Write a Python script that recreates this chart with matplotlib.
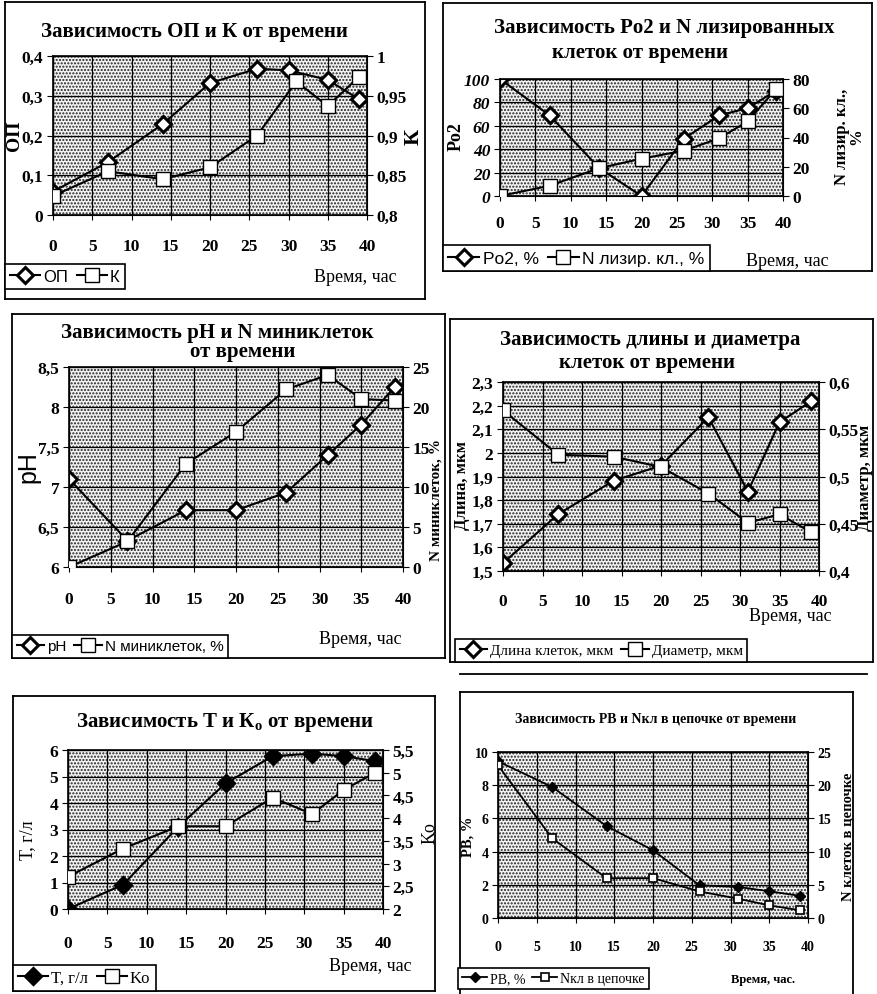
import matplotlib
matplotlib.use('Agg')
import matplotlib.pyplot as plt
from matplotlib.patches import Rectangle
from matplotlib.lines import Line2D
from matplotlib.ticker import FuncFormatter, MultipleLocator

plt.rcParams['font.family'] = ['Liberation Serif', 'DejaVu Serif']
plt.rcParams['mathtext.fontset'] = 'custom'
plt.rcParams['mathtext.rm'] = 'Liberation Serif'
plt.rcParams['mathtext.bf'] = 'Liberation Serif:bold'
plt.rcParams['hatch.linewidth'] = 1.0

W, H = 877, 995

# время, час
time = [0, 7, 14, 20, 26, 31, 35, 39]
time_op = [0, 7, 14, 20, 26, 30, 35, 39]

# panel 1
op = [0.059, 0.133, 0.229, 0.332, 0.368, 0.364, 0.340, 0.291]
k = [0.824, 0.855, 0.845, 0.860, 0.900, 0.968, 0.937, 0.974]

# panel 2
po2 = [100, 69, 24, 0, 49, 69, 75, 90]
n_lys = [0, 7, 19, 25.5, 31, 39.5, 51, 73]

# panel 3
ph = [7.10, 6.33, 6.71, 6.71, 6.93, 7.40, 7.78, 8.25]
n_mini = [0, 3.2, 12.9, 16.9, 22.2, 24, 21, 20.8]

# panel 4
length = [1.533, 1.741, 1.882, 1.946, 2.151, 1.836, 2.13, 2.218]
diam = [0.570, 0.523, 0.521, 0.510, 0.482, 0.451, 0.460, 0.441]

# panel 5
T = [0, 0.92, 3.1, 4.74, 5.77, 5.86, 5.77, 5.58]
ko = [2.71, 3.33, 3.82, 3.82, 4.45, 4.09, 4.62, 5.0]

# panel 6
pb = [9.44, 7.89, 5.54, 4.08, 1.97, 1.87, 1.61, 1.33]
n_chain = [23.0, 12.0, 6.0, 6.0, 4.0, 2.9, 1.9, 1.16]

fig = plt.figure(figsize=(W / 100, H / 100), dpi=100)


def fx(x):
    return x / W


def fy(y):
    return 1 - y / H


def comma(v, pos):
    return ('%g' % round(v, 4)).replace('.', ',')


def box(l, t, r, b, sides='lrtb'):
    if 'l' in sides:
        fig.add_artist(Line2D([fx(l), fx(l)], [fy(t), fy(b)], color='black', lw=1.3))
    if 'r' in sides:
        fig.add_artist(Line2D([fx(r), fx(r)], [fy(t), fy(b)], color='black', lw=1.3))
    if 't' in sides:
        fig.add_artist(Line2D([fx(l), fx(r)], [fy(t), fy(t)], color='black', lw=1.3))
    if 'b' in sides:
        fig.add_artist(Line2D([fx(l), fx(r)], [fy(b), fy(b)], color='black', lw=1.3))


def panel(l, t, r, b, ylim, ystep, y2lim, y2step, fs=12.5, xpad=12):
    ax = fig.add_axes([fx(l), fy(b), (r - l) / W, (b - t) / H])
    # stippled plot area like the scanned Excel chart
    ax.add_patch(Rectangle((0, 0), 1, 1, transform=ax.transAxes, facecolor='#f2f2f2',
                           edgecolor='#222222', linewidth=0, hatch='.....', zorder=0))
    ax.set_xlim(0, 40)
    ax.set_ylim(*ylim)
    ax.xaxis.set_major_locator(MultipleLocator(5))
    ax.yaxis.set_major_locator(MultipleLocator(ystep))
    ax.yaxis.set_major_formatter(FuncFormatter(comma))
    ax.grid(True, color='black', lw=0.9)
    ax.set_axisbelow(True)
    ax.tick_params(axis='x', direction='inout', length=7, pad=xpad, labelsize=fs)
    ax.tick_params(axis='y', direction='out', length=4, pad=3, labelsize=fs)
    for s in ax.spines.values():
        s.set_linewidth(1.2)
    for lab in ax.get_xticklabels() + ax.get_yticklabels():
        lab.set_fontweight('bold')
    ax2 = ax.twinx()
    ax2.set_ylim(*y2lim)
    ax2.yaxis.set_major_locator(MultipleLocator(y2step))
    ax2.yaxis.set_major_formatter(FuncFormatter(comma))
    ax2.tick_params(axis='y', direction='out', length=4, pad=3, labelsize=fs)
    for lab in ax2.get_yticklabels():
        lab.set_fontweight('bold')
    return ax, ax2


dia = dict(color='black', lw=1.5, marker='D', ms=8, mfc='white', mec='black', mew=2.2)
sq = dict(color='black', lw=1.5, marker='s', ms=10, mfc='white', mec='black', mew=1.0)


def legend(handles, labels, x0, y1, fs=12, family='Liberation Sans'):
    lg = fig.legend(handles, labels, loc='lower left', bbox_to_anchor=(fx(x0), fy(y1)),
                    ncol=2, frameon=True, fancybox=False, edgecolor='black', framealpha=1,
                    borderpad=0.3, handlelength=1.8, handletextpad=0.2, columnspacing=0.5,
                    borderaxespad=0, prop={'family': family, 'size': fs})
    lg.get_frame().set_linewidth(1.2)
    return lg


def title(x, y, s, fs=15):
    fig.text(fx(x), fy(y), s, ha='center', va='center', fontsize=fs, fontweight='bold')


def ylab(x, y, s, fs=13, rot=90, **kw):
    fig.text(fx(x), fy(y), s, ha='center', va='center', rotation=rot, fontsize=fs, **kw)


# ---- panel 1: ОП и К
box(5, 3, 425, 300)
ax, ax2 = panel(53, 57, 367, 216, (0, 0.4), 0.1, (0.8, 1.0), 0.05, xpad=13)
l1, = ax.plot(time_op, op, zorder=4, **dia)
l2, = ax2.plot(time, k, zorder=3, **sq)
title(194, 32, 'Зависимость ОП и К от времени')
ylab(14, 136, 'ОП', fs=14, fontweight='bold')
ylab(414, 137, 'К', fs=16, fontweight='bold')
legend([l1, l2], ['ОП', 'К'], 5, 290)
fig.text(fx(355), fy(277), 'Время, час', ha='center', va='center', fontsize=13)

# ---- panel 2: Po2 и N лизированных
box(443, 4, 872, 272)
ax, ax2 = panel(500, 80, 783, 197, (0, 100), 20, (0, 80), 20, xpad=10)
for lab in ax.get_yticklabels():
    lab.set_fontstyle('italic')
l1, = ax.plot(time, po2, zorder=4, **dia)
l2, = ax2.plot(time, n_lys, zorder=3, **sq)
title(664, 28, 'Зависимость Po2 и N лизированных')
title(640, 53, 'клеток от времени')
ylab(456, 137, 'Po2', fs=13, fontweight='bold')
ylab(849, 137, 'N лизир. кл.,\n%', fs=12, fontweight='bold', linespacing=0.9)
legend([l1, l2], ['Po2, %', 'N лизир. кл., %'], 443, 272, fs=12.5)
fig.text(fx(787), fy(262), 'Время, час', ha='center', va='center', fontsize=13)

# ---- panel 3: pH и N миниклеток
box(12, 315, 445, 659)
ax, ax2 = panel(69, 368, 403, 568, (6, 8.5), 0.5, (0, 25), 5, xpad=14)
l1, = ax.plot(time, ph, zorder=4, **dia)
l2, = ax2.plot(time, n_mini, zorder=3, **sq)
title(217, 333, 'Зависимость pH и N миниклеток')
title(243, 352, 'от времени')
ylab(28, 467, 'pH', fs=18, family='Liberation Sans')
ylab(436, 500, 'N миниклеток, %', fs=11, fontweight='bold')
legend([l1, l2], ['pH', 'N миниклеток, %'], 12, 659, fs=11)
fig.text(fx(360), fy(640), 'Время, час', ha='center', va='center', fontsize=13)

# ---- panel 4: длина и диаметр
box(450, 320, 873, 663)
ax, ax2 = panel(503, 383, 819, 572, (1.5, 2.3), 0.1, (0.4, 0.6), 0.05, xpad=12)
l1, = ax.plot(time, length, zorder=4, **dia)
l2, = ax2.plot(time, diam, zorder=3, **sq)
title(650, 340, 'Зависимость длины и диаметра')
title(647, 363, 'клеток от времени')
ylab(462, 485, 'Длина, мкм', fs=12, fontweight='bold')
ylab(865, 478, 'Диаметр, мкм', fs=12, fontweight='bold')
legend([l1, l2], ['Длина клеток, мкм', 'Диаметр, мкм'], 455, 663, fs=11, family='Liberation Serif')
fig.text(fx(790), fy(617), 'Время, час', ha='center', va='center', fontsize=13)

# ---- panel 5: T и Ko
box(13, 697, 435, 992)
ax, ax2 = panel(68, 751, 383, 910, (0, 6), 1, (2, 5.5), 0.5, xpad=15)
dia_f = dict(dia, mfc='black')
l1, = ax.plot(time, T, zorder=4, **dia_f)
l2, = ax2.plot(time, ko, zorder=3, **sq)
title(225, 723, r'Зависимость Т и К$_{\mathbf{о}}$ от времени')
ylab(28, 840, 'Т, г/л', fs=13)
ylab(430, 833, 'Ko', fs=13)
legend([l1, l2], ['T, г/л', 'Ko'], 13, 992, fs=12, family='Liberation Serif')
fig.text(fx(370), fy(967), 'Время, час', ha='center', va='center', fontsize=13)

# ---- panel 6: РВ и N кл в цепочке
fig.add_artist(Line2D([fx(460), fx(867)], [fy(675), fy(675)], color='black', lw=1.3))
box(460, 693, 853, 995, sides='lrt')
ax, ax2 = panel(498, 753, 808, 919, (0, 10), 2, (0, 25), 5, fs=10, xpad=12)
dia_s = dict(color='black', lw=1.3, marker='D', ms=5, mfc='black', mec='black')
sq_s = dict(color='black', lw=1.3, marker='s', ms=6, mfc='white', mec='black', mew=1.2)
l1, = ax.plot(time, pb, zorder=4, **dia_s)
l2, = ax2.plot(time, n_chain, zorder=3, **sq_s)
title(656, 720, 'Зависимость РВ и Nкл в цепочке от времени', fs=10)
ylab(468, 837, 'РВ, %', fs=10.5, fontweight='bold')
ylab(848, 837, 'N клеток в цепочке', fs=10.5, fontweight='bold')
legend([l1, l2], ['РВ, %', 'Nкл в цепочке'], 458, 990, fs=10, family='Liberation Serif')
fig.text(fx(763), fy(980), 'Время, час.', ha='center', va='center', fontsize=9, fontweight='bold')

fig.savefig('out.png', dpi=100)
